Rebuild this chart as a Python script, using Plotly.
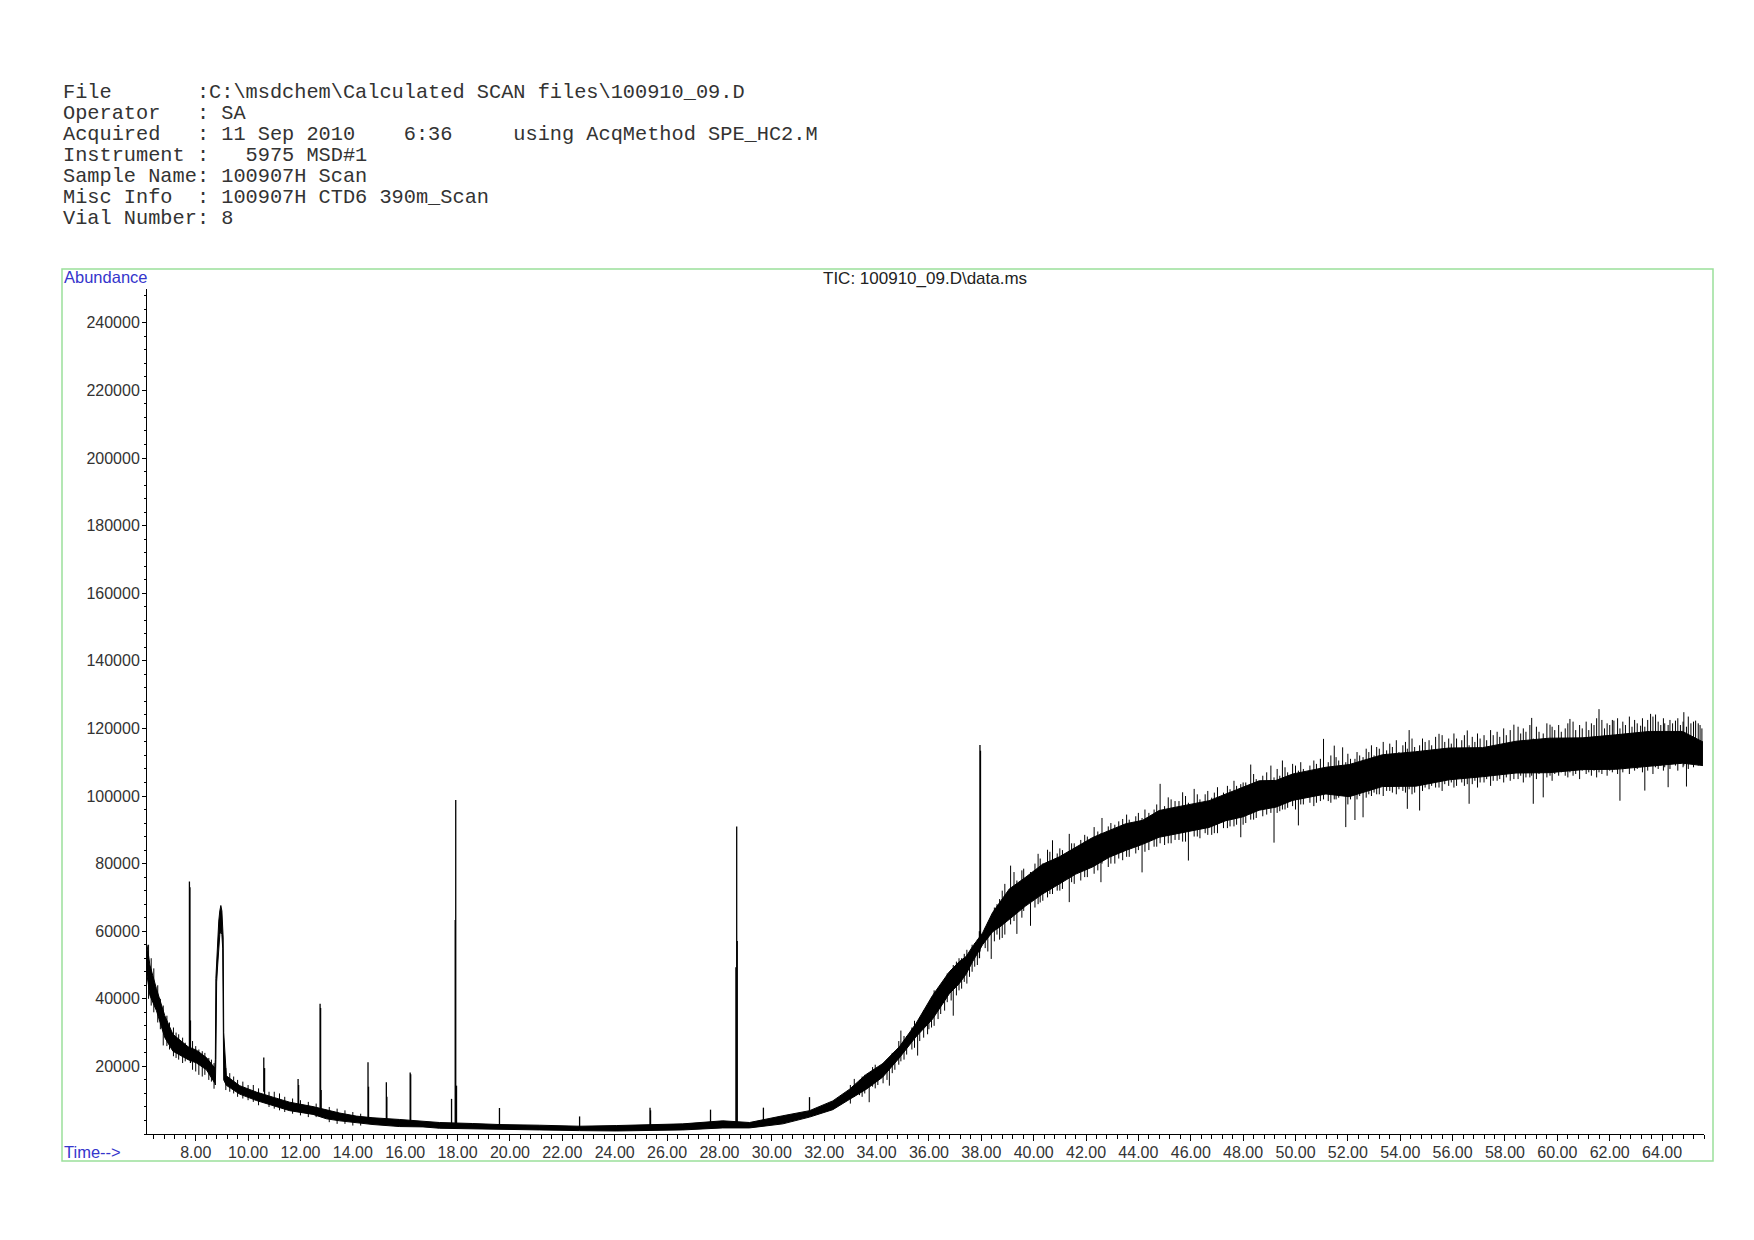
import plotly.graph_objects as go

# ---------------- data ----------------
HEADER_LINES = [
    "File       :C:\\msdchem\\Calculated SCAN files\\100910_09.D",
    "Operator   : SA",
    "Acquired   : 11 Sep 2010    6:36     using AcqMethod SPE_HC2.M",
    "Instrument :   5975 MSD#1",
    "Sample Name: 100907H Scan",
    "Misc Info  : 100907H CTD6 390m_Scan",
    "Vial Number: 8",
]
TITLE = "TIC: 100910_09.D\\data.ms"
Y_LABEL = "Abundance"
X_LABEL = "Time-->"

SCALE = 1000  # all abundance tables below are in thousands

# dense core of the noisy TIC trace (time in min, abundance in thousands)
BAND_T = [6.14, 6.25, 6.50, 6.82, 7.13, 7.45, 7.71, 8.03, 8.41, 8.73,
          8.75, 8.77, 8.80, 8.84, 8.88, 8.92, 8.96, 9.00, 9.03, 9.05,
          9.07, 9.17, 9.68, 10.32, 10.95, 11.59, 12.48, 12.99, 13.50, 14.13,
          14.77, 15.79, 16.68, 17.31, 18.58, 19.60, 21.13, 22.66, 24.06, 26.60,
          28.13, 29.15, 30.42, 31.44, 32.33, 32.96, 33.60, 34.23, 34.87, 35.50,
          36.14, 36.78, 37.16, 37.42, 37.67, 38.05, 38.43, 38.75, 39.07, 39.70, 40.34,
          40.98, 41.61, 42.25, 42.89, 43.52, 44.16, 44.79, 45.43, 46.07, 46.70,
          47.34, 47.98, 48.61, 49.25, 49.89, 50.52, 51.16, 52.05, 53.32, 54.59,
          55.87, 57.14, 58.42, 59.69, 60.96, 62.23, 63.51, 64.78, 65.56]
BAND_LO = [47.0, 41.0, 36.5, 28.5, 24.5, 23.0, 22.0, 21.0, 19.0, 15.0,
           14.5, 22.0, 45.0, 50.0, 56.0, 59.0, 60.0, 59.0, 55.0, 40.0,
           16.0, 14.4, 11.8, 9.9, 8.4, 6.9, 5.8, 4.5, 3.9, 3.3,
           2.8, 2.2, 2.1, 1.7, 1.6, 1.3, 1.2, 1.0, 0.9, 1.2,
           1.8, 1.8, 3.0, 5.0, 7.2, 10.2, 13.2, 16.8, 22.5, 28.7,
           34.0, 41.5, 44.5, 47.3, 51.0, 56.0, 59.8, 61.5, 63.5, 67.5, 71.0,
           74.0, 76.9, 79.0, 81.9, 83.9, 85.7, 87.8, 88.8, 89.8, 90.7,
           92.7, 93.8, 95.8, 96.7, 98.7, 99.6, 100.6, 99.8, 102.8, 102.9,
           104.8, 105.7, 106.8, 106.9, 107.8, 107.9, 108.7, 109.7, 109.0]
BAND_HI = [56.0, 50.0, 43.0, 35.0, 29.5, 27.5, 25.8, 24.8, 22.6, 19.5,
           22.0, 46.0, 52.0, 57.0, 63.0, 66.0, 67.6, 66.0, 62.0, 58.0,
           30.0, 17.2, 14.3, 12.4, 10.9, 9.4, 8.1, 7.1, 6.2, 5.3,
           4.8, 4.3, 3.9, 3.4, 3.1, 2.8, 2.6, 2.3, 2.5, 3.0,
           3.9, 3.4, 5.4, 6.9, 9.8, 13.2, 17.6, 20.8, 25.8, 32.6,
           41.0, 48.0, 51.0, 52.5, 55.5, 59.5, 65.5, 69.0, 72.5, 76.0, 79.8,
           82.0, 84.8, 87.7, 89.8, 91.8, 92.8, 95.7, 96.7, 97.7, 98.6,
           100.6, 102.5, 104.5, 104.6, 106.5, 107.5, 108.5, 109.3, 112.2, 113.1,
           114.2, 114.3, 116.2, 117.1, 117.2, 118.1, 119.1, 119.1, 116.0]

# scan-to-scan noise excursions (time, lowest, highest), thousands
NOISE_T = [6.20, 6.30, 6.40, 6.55, 6.65, 6.76, 6.90, 7.00, 7.15, 7.25,
           7.35, 7.50, 7.60, 7.88, 8.00, 8.12, 8.25, 8.35, 8.50, 8.60,
           8.70, 9.15, 9.30, 9.45, 9.60, 9.80, 10.00, 10.20, 10.40, 10.80,
           11.00, 11.20, 11.40, 11.70, 12.00, 12.30, 12.60, 13.10, 13.40, 13.70,
           14.00, 14.30,
           33.00, 33.15, 33.35, 33.55, 33.72, 33.85, 34.05, 34.25, 34.49, 34.70,
           34.93, 35.15, 35.35, 35.57, 35.80, 36.00, 36.20, 36.45, 36.70, 36.93,
           37.15, 37.35, 37.55, 37.75, 38.15, 38.38, 38.60, 38.80, 39.12, 39.36,
           39.55, 39.88, 40.05, 40.17, 40.35, 40.53, 40.72, 40.90, 41.10, 41.36,
           41.55, 41.80, 42.05, 42.31, 42.57, 42.61, 42.85, 43.10, 43.40, 43.65,
           43.90, 44.14, 44.40, 44.60, 44.83, 45.00, 45.14, 45.40, 45.69, 45.91,
           46.13, 46.35, 46.55, 46.80, 47.02, 47.25, 47.50, 47.75, 47.91, 48.10,
           48.29, 48.50, 48.75, 49.06, 49.18, 49.40, 49.50, 49.70, 49.89, 50.11,
           50.30, 50.55, 50.80, 51.07, 51.25, 51.48, 51.65, 51.80, 51.92, 52.10,
           52.27, 52.45, 52.58, 52.80, 53.00, 53.20, 53.48, 53.70, 53.95, 54.10,
           54.27, 54.34, 54.55, 54.74, 54.95, 55.20, 55.48, 55.70, 55.95, 56.15,
           56.35, 56.56, 56.63, 56.85, 57.05, 57.30, 57.55, 57.80, 58.05, 58.34,
           58.60, 58.80, 59.02, 59.08, 59.30, 59.46, 59.72, 59.90, 60.15, 60.30,
           60.48, 60.70, 60.95, 61.20, 61.40, 61.59, 61.80, 62.00, 62.16, 62.39,
           62.60, 62.85, 63.05, 63.18, 63.34, 63.56, 63.75, 63.95, 64.10, 64.23,
           64.40, 64.51, 64.70, 64.83, 64.93, 65.10, 65.28, 65.45]
NOISE_LO = [40.0, 38.0, 36.0, 33.0, 31.0, 26.2, 26.0, 25.0, 23.0, 22.5,
            22.0, 21.0, 21.5, 19.0, 18.5, 17.5, 17.0, 17.5, 16.0, 15.5,
            13.4, 13.0, 12.5, 12.0, 11.0, 10.5, 10.0, 9.5, 8.5, 8.0,
            7.5, 7.0, 6.5, 6.0, 5.5, 5.0, 5.0, 3.5, 3.0, 3.0,
            2.5, 2.5,
            9.0, 11.0, 11.5, 12.0, 9.4, 14.0, 14.5, 15.0, 14.3, 19.0,
            21.5, 23.5, 25.0, 23.2, 28.5, 31.0, 32.0, 35.5, 39.0, 35.0,
            42.5, 45.0, 46.5, 49.5, 55.0, 51.8, 59.0, 58.0, 62.0, 59.2,
            64.0, 61.6, 67.0, 68.0, 69.0, 70.0, 71.0, 72.0, 72.5, 68.6,
            74.0, 75.0, 76.0, 77.0, 74.5, 80.0, 79.0, 80.0, 81.0, 82.0,
            83.0, 77.4, 84.0, 85.0, 86.0, 85.5, 86.0, 87.0, 86.5, 80.9,
            88.0, 87.5, 89.0, 88.5, 89.0, 90.5, 91.0, 91.5, 87.8, 92.0,
            93.0, 93.5, 94.0, 95.0, 86.2, 95.5, 96.0, 96.5, 97.0, 91.3,
            97.5, 98.0, 98.0, 99.0, 98.5, 99.0, 99.5, 100.0, 90.8, 99.0,
            92.9, 100.0, 93.7, 100.5, 101.0, 100.5, 101.5, 101.0, 102.0, 101.5,
            96.2, 102.0, 101.0, 95.7, 102.5, 103.0, 102.5, 103.5, 104.0, 103.0,
            104.0, 103.5, 97.7, 104.5, 104.0, 105.0, 104.5, 105.0, 105.5, 105.0,
            106.0, 105.5, 106.0, 97.7, 106.5, 99.6, 106.0, 106.5, 107.0, 106.0,
            107.0, 106.5, 107.5, 107.0, 107.5, 107.0, 108.0, 107.5, 108.0, 98.6,
            108.0, 108.5, 108.0, 108.5, 101.6, 109.0, 108.5, 109.0, 108.5, 102.6,
            109.5, 109.0, 109.5, 109.0, 102.8, 110.0, 109.5, 110.0]
NOISE_HI = [56.0, 52.0, 49.0, 44.0, 40.0, 38.0, 35.0, 33.0, 31.5, 30.0,
            29.5, 28.5, 27.0, 27.5, 26.0, 25.0, 24.5, 24.0, 22.5, 22.0,
            21.0, 19.5, 18.0, 17.0, 16.0, 15.5, 14.5, 14.5, 13.5, 12.5,
            12.5, 12.0, 11.0, 10.5, 10.0, 9.5, 9.0, 8.0, 7.5, 7.0,
            6.5, 6.0,
            14.5, 16.3, 16.0, 17.5, 18.0, 19.8, 19.5, 21.0, 22.5, 24.5,
            30.6, 29.0, 31.5, 33.0, 36.5, 38.5, 42.5, 44.0, 47.5, 50.0,
            52.0, 53.3, 54.0, 56.5, 61.0, 63.5, 68.0, 72.0, 79.4, 75.0,
            78.0, 77.5, 80.0, 82.9, 80.0, 84.1, 86.9, 83.0, 84.0, 88.8,
            86.0, 87.0, 88.0, 90.8, 89.0, 93.5, 91.0, 91.5, 93.2, 93.0,
            94.0, 93.5, 95.0, 96.0, 103.6, 97.0, 99.6, 98.5, 101.1, 98.0,
            102.1, 99.0, 100.5, 99.5, 102.6, 101.0, 102.0, 103.0, 103.5, 104.0,
            109.3, 105.0, 106.0, 109.0, 105.5, 106.0, 110.5, 107.0, 109.5, 107.5,
            108.0, 109.0, 109.5, 116.9, 110.0, 114.9, 110.5, 114.4, 110.0, 111.0,
            111.0, 112.0, 111.5, 113.0, 112.0, 114.0, 113.5, 114.5, 113.0, 115.0,
            114.0, 119.5, 114.5, 115.0, 116.0, 115.0, 118.4, 116.0, 115.5, 117.0,
            116.5, 119.4, 115.0, 116.0, 117.0, 116.5, 118.0, 117.5, 118.0, 121.1,
            118.5, 119.0, 123.1, 117.0, 119.0, 118.5, 121.1, 119.5, 119.0, 120.0,
            122.8, 119.5, 120.0, 119.5, 121.0, 125.7, 120.0, 121.0, 122.3, 120.0,
            121.0, 120.5, 121.5, 120.8, 120.5, 124.3, 124.1, 121.0, 121.5, 121.0,
            121.5, 122.3, 121.0, 124.8, 120.5, 121.5, 122.3, 121.0]

# further, smaller excursions between the ones above (time, lowest, highest)
NOISE2_T = [33.45, 33.95, 34.40, 34.60, 34.85, 35.05, 35.45, 35.65, 35.95, 36.10,
            36.35, 36.60, 36.85, 37.05, 37.25, 37.45, 37.65, 37.85, 38.25, 38.50,
            38.70, 38.90, 39.25, 39.62, 40.25, 40.62, 41.00, 41.45, 41.95, 42.45,
            42.95, 43.25, 43.55, 44.00, 44.25, 44.70, 45.25, 45.55, 45.80, 46.25,
            46.65, 46.90, 47.40, 47.65, 48.00, 48.40, 48.90, 49.30, 49.60, 50.00,
            50.20, 50.70, 50.95, 51.35, 51.55, 52.00, 52.35, 52.70, 52.90, 53.10,
            53.35, 53.60, 53.85, 54.20, 54.45, 54.85, 55.10, 55.35, 55.60, 55.85,
            56.05, 56.45, 56.75, 56.95, 57.20, 57.45, 57.70, 57.95, 58.20, 58.50,
            58.70, 58.95, 59.20, 59.60, 59.80, 60.05, 60.40, 60.60, 60.85, 61.10,
            61.30, 61.50, 61.70, 61.90, 62.10, 62.30, 62.50, 62.75, 62.95, 63.25,
            63.45, 63.65, 63.85, 64.05, 64.30, 64.60, 64.80, 65.00, 65.20, 65.38,
            65.52]
NOISE2_LO = [11.0, 13.5, 16.0, 18.0, 20.5, 22.0, 25.5, 27.5, 29.5, 31.5,
             34.0, 36.5, 39.5, 41.0, 43.0, 44.5, 48.0, 50.0, 54.0, 57.0,
             57.5, 59.0, 63.0, 66.0, 68.5, 71.0, 72.0, 74.5, 76.0, 78.0,
             80.0, 81.5, 82.0, 84.0, 83.5, 85.0, 86.0, 87.0, 86.5, 88.0,
             88.5, 89.0, 90.5, 91.0, 91.5, 93.0, 94.5, 95.0, 96.0, 96.0,
             97.5, 97.0, 98.5, 98.0, 99.0, 97.5, 99.0, 99.5, 100.0, 100.5,
             100.0, 101.5, 100.5, 101.0, 100.5, 101.5, 102.0, 102.5, 101.5, 103.0,
             102.5, 103.0, 103.5, 102.5, 104.0, 103.0, 104.5, 104.0, 104.5, 105.0,
             104.0, 105.5, 105.0, 105.5, 104.5, 106.0, 105.5, 106.0, 105.0, 106.5,
             106.0, 105.5, 106.5, 106.0, 107.0, 106.5, 107.0, 106.5, 107.5, 107.0,
             107.5, 106.5, 108.0, 107.5, 108.0, 107.5, 108.5, 108.0, 108.5, 109.0,
             109.5]
NOISE2_HI = [17.0, 20.5, 22.0, 24.0, 27.5, 29.0, 33.5, 34.5, 38.0, 40.5,
             43.0, 46.0, 48.5, 51.0, 52.0, 54.5, 56.0, 57.5, 62.5, 67.0,
             69.5, 74.0, 77.5, 78.5, 81.5, 83.5, 84.5, 86.0, 88.5, 89.5,
             92.0, 92.5, 94.5, 95.0, 96.0, 97.5, 99.0, 98.5, 100.0, 100.5,
             101.5, 101.0, 103.0, 104.5, 104.0, 106.5, 107.0, 108.0, 108.5, 109.0,
             110.0, 110.5, 111.0, 112.0, 111.5, 112.5, 113.0, 114.0, 115.0, 114.5,
             116.0, 115.5, 116.5, 116.0, 117.0, 117.0, 116.5, 117.5, 118.0, 117.0,
             118.5, 118.0, 117.5, 118.5, 118.0, 119.5, 119.0, 120.0, 119.5, 120.5,
             120.0, 121.0, 120.5, 121.5, 120.5, 121.0, 121.5, 122.0, 121.0, 122.0,
             121.5, 123.0, 122.5, 121.5, 122.5, 123.0, 122.0, 123.5, 122.5, 123.0,
             122.5, 123.5, 122.0, 123.0, 122.5, 123.0, 122.0, 123.5, 122.0, 121.5,
             120.0]

# sharp chromatographic peaks: time, foot, apex (thousands)
PEAK_T = [7.76, 7.78, 7.80, 10.60, 10.63, 11.91, 11.93, 12.75, 12.77, 12.79,
          14.58, 14.60, 15.28, 15.30, 16.19, 16.21, 17.77, 17.91, 17.93, 17.96,
          19.60, 22.66, 25.35, 25.37, 27.66, 28.63, 28.66, 28.68, 29.68, 31.44,
          37.93, 37.95, 37.97]
PEAK_FOOT = [24.0, 22.0, 21.0, 12.5, 11.5, 8.5, 8.0, 7.0, 6.5, 6.0,
             4.0, 3.5, 3.5, 3.0, 3.0, 3.0, 2.5, 3.0, 3.0, 2.5,
             2.0, 1.5, 2.0, 2.0, 2.5, 3.0, 3.0, 3.0, 3.0, 6.0,
             52.0, 54.0, 55.0]
PEAK_TOP = [74.7, 73.0, 33.6, 22.6, 19.5, 16.3, 14.5, 38.5, 37.3, 13.0,
            21.2, 14.0, 15.3, 11.0, 18.2, 17.7, 10.4, 63.3, 98.8, 14.3,
            7.7, 5.2, 7.8, 7.0, 7.2, 49.3, 91.0, 57.1, 7.8, 10.9,
            60.0, 115.1, 113.4]

X_TICKS = [8, 10, 12, 14, 16, 18, 20, 22, 24, 26, 28, 30, 32, 34, 36, 38, 40,
           42, 44, 46, 48, 50, 52, 54, 56, 58, 60, 62, 64]
Y_TICKS = [20000, 40000, 60000, 80000, 100000, 120000, 140000, 160000,
           180000, 200000, 220000, 240000]
X_RANGE = [6.14, 65.6]
Y_RANGE = [0, 250000]

# ---------------- layout geometry (pixels) ----------------
W, H = 1754, 1240
L, R, T, B = 147, 1704, 289, 1134


def px(x):
    return (x - L) / (R - L)


def py(y):
    return (B - y) / (B - T)


def k(vals):
    return [v * SCALE for v in vals]


def seg(xs, y0s, y1s):
    sx, sy = [], []
    for x, a, b in zip(xs, y0s, y1s):
        sx += [x, x, None]
        sy += [a * SCALE, b * SCALE, None]
    return sx, sy


fig = go.Figure()
fig.add_trace(go.Scatter(x=BAND_T, y=k(BAND_LO), mode="lines",
                         line=dict(color="black", width=1), hoverinfo="skip"))
fig.add_trace(go.Scatter(x=BAND_T, y=k(BAND_HI), mode="lines", fill="tonexty",
                         fillcolor="black", line=dict(color="black", width=1),
                         hoverinfo="skip"))
for nt, nlo, nhi in ((NOISE_T, NOISE_LO, NOISE_HI), (NOISE2_T, NOISE2_LO, NOISE2_HI)):
    nxs, nys = seg(nt, nlo, nhi)
    fig.add_trace(go.Scatter(x=nxs, y=nys, mode="lines",
                             line=dict(color="black", width=1), hoverinfo="skip"))
pxs, pys = seg(PEAK_T, PEAK_FOOT, PEAK_TOP)
fig.add_trace(go.Scatter(x=pxs, y=pys, mode="lines",
                         line=dict(color="black", width=1.3), hoverinfo="skip"))

tick_font = dict(family="Liberation Sans, Arial, sans-serif", size=16, color="#333333")

fig.update_layout(
    width=W, height=H,
    margin=dict(l=L, r=W - R, t=T, b=H - B, pad=0),
    paper_bgcolor="white", plot_bgcolor="white",
    showlegend=False,
    xaxis=dict(range=X_RANGE, showgrid=False, zeroline=False,
               showline=True, linecolor="black", linewidth=1,
               ticks="outside", ticklen=6, tickcolor="black", tickwidth=1,
               tickmode="array", tickvals=X_TICKS,
               ticktext=[f"{v:.2f}" for v in X_TICKS],
               tickfont=tick_font, ticklabelstandoff=-2,
               minor=dict(tickmode="linear", tick0=0, dtick=0.4, ticks="outside",
                          ticklen=4, tickcolor="black", tickwidth=1, showgrid=False)),
    yaxis=dict(range=Y_RANGE, showgrid=False, zeroline=False,
               showline=True, linecolor="black", linewidth=1,
               ticks="outside", ticklen=4, tickcolor="black", tickwidth=1,
               tickmode="array", tickvals=Y_TICKS,
               ticktext=[str(v) for v in Y_TICKS],
               tickfont=tick_font, ticklabelstandoff=-1,
               minor=dict(tickmode="linear", tick0=0, dtick=4000, ticks="outside",
                          ticklen=2.5, tickcolor="black", tickwidth=1, showgrid=False)),
)

# green frame
fig.add_shape(type="rect", xref="paper", yref="paper",
              x0=px(62), x1=px(1713), y0=py(1161), y1=py(269),
              line=dict(color="#9be09b", width=1.5), layer="below")

blue = "#3535cc"
fig.add_annotation(text=Y_LABEL, xref="paper", yref="paper", x=px(62), y=py(277),
                   xanchor="left", yanchor="middle", showarrow=False,
                   font=dict(family="Liberation Sans, Arial", size=16.5, color=blue))
fig.add_annotation(text=X_LABEL, xref="paper", yref="paper", x=px(62), y=py(1152),
                   xanchor="left", yanchor="middle", showarrow=False,
                   font=dict(family="Liberation Sans, Arial", size=16.5, color=blue))
fig.add_annotation(text=TITLE, xref="paper", yref="paper", x=px(925), y=py(279),
                   xanchor="center", yanchor="middle", showarrow=False,
                   font=dict(family="Liberation Sans, Arial", size=17, color="#222222"))

line_y = [92.8, 113.7, 134.6, 155.5, 176.4, 197.3, 218.2]
for txt, yy in zip(HEADER_LINES, line_y):
    fig.add_annotation(text=txt.replace(" ", "\u00a0"), xref="paper", yref="paper",
                       x=px(61), y=py(yy), xanchor="left", yanchor="middle",
                       showarrow=False,
                       font=dict(family="Liberation Mono, Courier New, monospace",
                                 size=20.3, color="#333333"))

fig.write_html("out.html", config={"displayModeBar": False},
               post_script="document.body.style.margin='0px';")
